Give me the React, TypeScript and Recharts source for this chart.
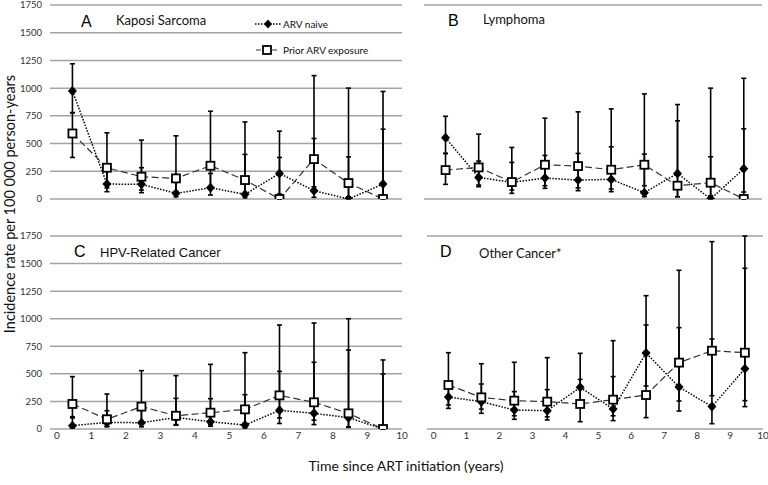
import { ComposedChart, Line, XAxis, YAxis, CartesianGrid, ErrorBar } from "recharts";

const years = [0.45, 1.45, 2.45, 3.45, 4.45, 5.45, 6.45, 7.45, 8.45, 9.45];
const xTicks = [0, 1, 2, 3, 4, 5, 6, 7, 8, 9, 10];
const yTicks = [0, 250, 500, 750, 1000, 1250, 1500, 1750];

// A - Kaposi sarcoma
const aNaive = [975, 135, 132, 51, 102, 42, 231, 75, 0, 135];
const aNaiveLo = [780, 66, 57, 20, 36, 12, 45, 15, 0, 30];
const aNaiveHi = [1220, 270, 282, 150, 230, 402, 612, 546, 380, 970];
const aPrior = [591, 282, 201, 186, 300, 171, 0, 360, 144, 0];
const aPriorLo = [375, 100, 81, 60, 110, 40, 0, 110, 20, 0];
const aPriorHi = [777, 597, 531, 570, 792, 695, 375, 1113, 1000, 630];

// B - Lymphoma
const bNaive = [552, 195, 150, 189, 171, 177, 57, 231, 0, 273];
const bNaiveLo = [411, 111, 81, 96, 75, 66, 21, 21, 0, 63];
const bNaiveHi = [746, 342, 330, 393, 411, 471, 405, 852, 381, 1089];
const bPrior = [261, 285, 153, 309, 297, 264, 309, 120, 147, 0];
const bPriorLo = [132, 126, 51, 120, 100, 90, 120, 20, 30, 0];
const bPriorHi = [411, 585, 465, 729, 786, 813, 948, 705, 1000, 633];

// C - HPV-related cancer
const cNaive = [30, 60, 57, 105, 66, 36, 169, 142, 103, 0];
const cNaiveLo = [10, 20, 20, 35, 25, 10, 50, 40, 15, 0];
const cNaiveHi = [112, 166, 200, 278, 275, 311, 523, 605, 716, 499];
const cPrior = [227, 88, 203, 120, 148, 178, 305, 242, 142, 0];
const cPriorLo = [100, 25, 60, 40, 40, 50, 100, 80, 20, 0];
const cPriorHi = [475, 317, 529, 484, 586, 692, 943, 961, 1000, 626];

// D - Other cancer
const dNaive = [290, 248, 172, 166, 378, 181, 689, 381, 203, 547];
const dNaiveLo = [187, 142, 88, 82, 200, 76, 390, 163, 48, 257];
const dNaiveHi = [400, 408, 339, 357, 686, 475, 1209, 919, 816, 1457];
const dPrior = [399, 287, 257, 248, 227, 266, 308, 602, 710, 692];
const dPriorLo = [218, 180, 120, 110, 66, 120, 103, 254, 302, 203];
const dPriorHi = [692, 592, 605, 647, 450, 801, 943, 1439, 1699, 1750];

function buildRows(
  naive: number[],
  naiveLo: number[],
  naiveHi: number[],
  prior: number[],
  priorLo: number[],
  priorHi: number[]
) {
  return years.map((x, i) => ({
    x,
    naive: naive[i],
    naiveErr: [naive[i] - naiveLo[i], naiveHi[i] - naive[i]],
    prior: prior[i],
    priorErr: [prior[i] - priorLo[i], priorHi[i] - prior[i]],
  }));
}

const FONT = "Lato, 'Open Sans', sans-serif";
const GRID = "#a3a3a3";

const Diamond = (props: any) => {
  const { cx, cy, index } = props;
  if (cx == null || cy == null) return null;
  return (
    <path
      key={`d${index}`}
      d={`M${cx},${cy - 5}L${cx + 4.5},${cy}L${cx},${cy + 5}L${cx - 4.5},${cy}Z`}
      fill="#000"
    />
  );
};

const Square = (props: any) => {
  const { cx, cy, index } = props;
  if (cx == null || cy == null) return null;
  return (
    <rect
      key={`s${index}`}
      x={cx - 4}
      y={cy - 4}
      width={8}
      height={8}
      fill="#fff"
      stroke="#000"
      strokeWidth={1.8}
    />
  );
};

interface PanelProps {
  rows: ReturnType<typeof buildRows>;
  left: number;
  top: number;
  width: number;
  height: number;
  margin: { top: number; right: number; bottom: number; left: number };
  showY: boolean;
  showX: boolean;
}

function Panel({ rows, left, top, width, height, margin, showY, showX }: PanelProps) {
  return (
    <div style={{ position: "absolute", left, top }}>
      <ComposedChart width={width} height={height} data={rows} margin={margin}>
        <CartesianGrid vertical={false} stroke={GRID} strokeWidth={1.5} />
        <XAxis
          dataKey="x"
          type="number"
          domain={[-0.2, 10]}
          ticks={xTicks}
          interval={0}
          allowDataOverflow
          hide={!showX}
          height={30}
          axisLine={false}
          tickLine={false}
          tickSize={2}
          tickMargin={1}
          tick={{ fontSize: 10, fill: "#333", fontFamily: FONT }}
        />
        <YAxis
          type="number"
          domain={[0, 1750]}
          ticks={yTicks}
          interval={0}
          allowDataOverflow
          width={50}
          axisLine={false}
          tickLine={false}
          tick={showY ? { fontSize: 9.5, fill: "#333", fontFamily: FONT } : false}
        />
        <Line
          dataKey="naive"
          type="linear"
          stroke="#000"
          strokeWidth={1.5}
          strokeDasharray="1.5 1.5"
          dot={Diamond}
          activeDot={false}
          isAnimationActive={false}
        >
          <ErrorBar dataKey="naiveErr" direction="y" width={2.5} stroke="#000" strokeWidth={1.6} />
        </Line>
        <Line
          dataKey="prior"
          type="linear"
          stroke="#333"
          strokeWidth={1.2}
          strokeDasharray="7 3.5"
          dot={Square}
          activeDot={false}
          isAnimationActive={false}
        >
          <ErrorBar dataKey="priorErr" direction="y" width={2.5} stroke="#000" strokeWidth={1.6} />
        </Line>
      </ComposedChart>
    </div>
  );
}

export default function App() {
  const rowsA = buildRows(aNaive, aNaiveLo, aNaiveHi, aPrior, aPriorLo, aPriorHi);
  const rowsB = buildRows(bNaive, bNaiveLo, bNaiveHi, bPrior, bPriorLo, bPriorHi);
  const rowsC = buildRows(cNaive, cNaiveLo, cNaiveHi, cPrior, cPriorLo, cPriorHi);
  const rowsD = buildRows(dNaive, dNaiveLo, dNaiveHi, dPrior, dPriorLo, dPriorHi);

  return (
    <div
      style={{
        position: "absolute",
        left: 0,
        top: 0,
        width: 768,
        height: 485,
        background: "#fff",
        overflow: "hidden",
      }}
    >
      <Panel rows={rowsA} left={0} top={0} width={410} height={205}
        margin={{ top: 5, right: 8, bottom: 6, left: 0 }} showY showX={false} />
      <Panel rows={rowsB} left={374} top={0} width={394} height={205}
        margin={{ top: 5, right: 6, bottom: 6, left: 0 }} showY={false} showX={false} />
      <Panel rows={rowsC} left={0} top={226} width={410} height={233}
        margin={{ top: 10, right: 8, bottom: 0, left: 0 }} showY showX />
      <Panel rows={rowsD} left={377} top={226} width={391} height={233}
        margin={{ top: 10, right: 5, bottom: 0, left: 0 }} showY={false} showX />

      <svg
        width={768}
        height={485}
        style={{ position: "absolute", left: 0, top: 0, pointerEvents: "none" }}
      >
        <g fontFamily="'Liberation Sans', Arial, sans-serif" fill="#000" fontSize={16}>
          <text x={81} y={27}>A</text>
          <text x={448} y={26}>B</text>
          <text x={74} y={257}>C</text>
          <text x={440} y={257}>D</text>
        </g>
        <g fontFamily={FONT} fill="#111" fontSize={13}>
          <text x={116} y={25}>Kaposi Sarcoma</text>
          <text x={483} y={24}>Lymphoma</text>
          <text x={479} y={258}>Other Cancer*</text>
        </g>
        <text x={100} y={257} fontFamily="'Liberation Sans', Arial, sans-serif" fontSize={13} fill="#111">
          HPV-Related Cancer
        </text>

        {/* legend */}
        <line x1={255} y1={24} x2={281} y2={24} stroke="#000" strokeWidth={1.5} strokeDasharray="1.5 1.5" />
        <path d="M268,19.5L272,24L268,28.5L264,24Z" fill="#000" />
        <text x={283} y={27.5} fontFamily={FONT} fontSize={10} fill="#111">ARV naive</text>
        <line x1={256} y1={50} x2={279} y2={50} stroke="#333" strokeWidth={1.2} strokeDasharray="5 3" />
        <rect x={263} y={46} width={8} height={8} fill="#fff" stroke="#000" strokeWidth={1.8} />
        <text x={283} y={53.5} fontFamily={FONT} fontSize={10} fill="#111">Prior ARV exposure</text>

        <text
          x={9}
          y={204}
          transform="rotate(-90, 9, 204)"
          textAnchor="middle"
          dominantBaseline="central"
          fontFamily={FONT}
          fontSize={14.5}
          fill="#111"
        >
          Incidence rate per 100 000 person-years
        </text>
        <text x={406} y={471} textAnchor="middle" fontFamily={FONT} fontSize={14} fill="#111">
          Time since ART initiation (years)
        </text>
      </svg>
    </div>
  );
}
